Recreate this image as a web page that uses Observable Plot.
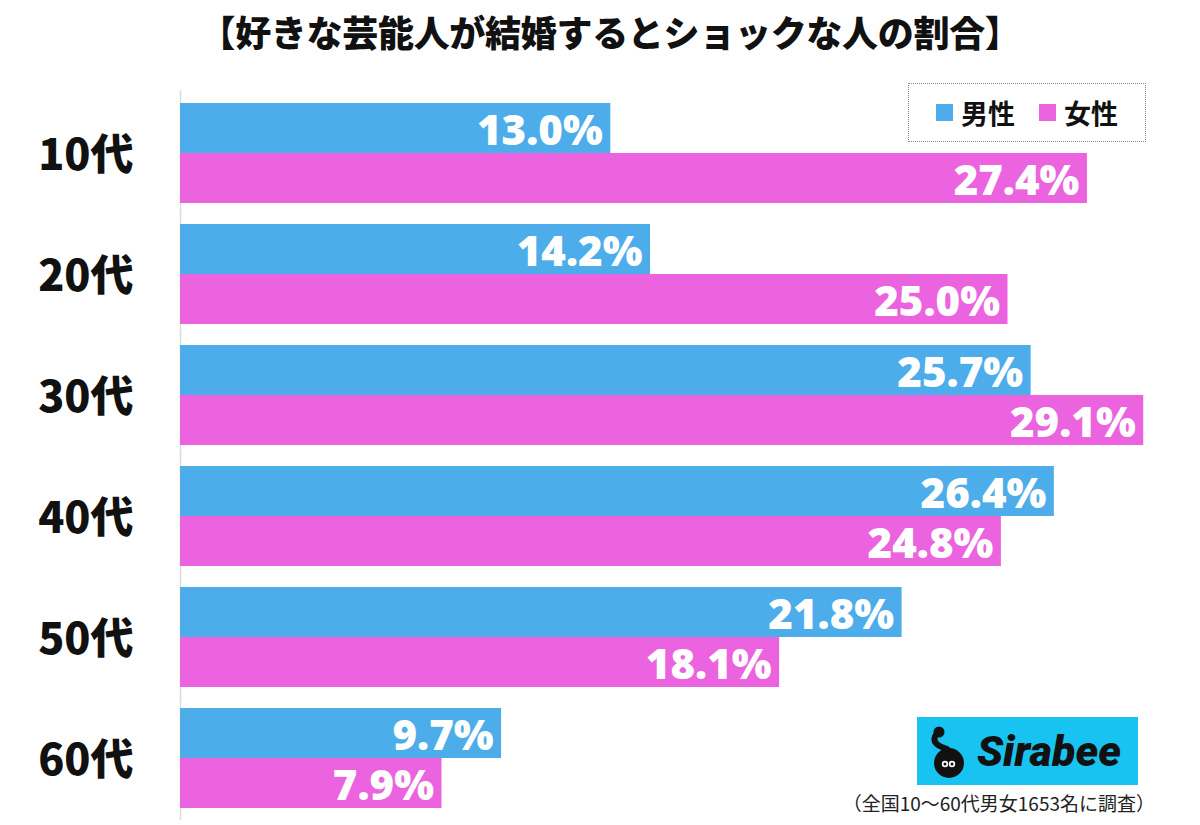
<!DOCTYPE html>
<html><head><meta charset="utf-8">
<script src="https://cdn.jsdelivr.net/npm/d3@7"></script>
<script src="https://cdn.jsdelivr.net/npm/@observablehq/plot@0.6"></script>
<style>
body{margin:0;background:#fff;}
#wrap{position:relative;width:1200px;height:825px;overflow:hidden;font-family:"Noto Sans CJK JP",sans-serif;background:#fff;}
#title{position:absolute;top:0;left:0;width:1200px;height:62px;line-height:62px;text-align:center;padding-left:20px;box-sizing:border-box;font-size:36px;font-weight:900;color:#111;letter-spacing:-0.3px;}
#chart{position:absolute;top:90px;left:0;}
#legend{position:absolute;left:908px;top:83px;width:238px;height:59px;box-sizing:border-box;border:1.5px dotted #888;display:flex;align-items:center;justify-content:center;gap:0;font-size:27px;font-weight:700;color:#111;}
#legend .sw{display:inline-block;width:17px;height:17px;margin-right:8px;}
#legend .item{display:flex;align-items:center;margin:0 12px;}
#logo{position:absolute;left:917px;top:717px;width:221px;height:68px;background:#19C3F1;}
#logo span{position:absolute;left:60px;top:4px;font-family:Roboto,sans-serif;font-size:43px;font-weight:900;font-style:italic;color:#111;line-height:60px;}
#caption{position:absolute;right:45px;top:789px;font-size:19px;color:#222;}
</style></head>
<body>
<div id="wrap">
  <div id="title"></div>
  <div id="chart"></div>
  <div id="legend"></div>
  <div id="logo">
    <svg width="50" height="68" style="position:absolute;left:8px;top:0">
      <circle cx="24" cy="46" r="15" fill="#111"/>
      <path d="M12 16 C 4 26, 16 30, 22 32" stroke="#111" stroke-width="6" fill="none" stroke-linecap="round"/>
      <circle cx="14" cy="15" r="5.5" fill="#111"/>
      <circle cx="20" cy="47" r="3.2" fill="#fff"/><circle cx="27" cy="47" r="3.2" fill="#fff"/>
      <circle cx="20" cy="47" r="1.5" fill="#111"/><circle cx="27" cy="47" r="1.5" fill="#111"/>
    </svg>
    <span>Sirabee</span>
  </div>
  <div id="caption"></div>
</div>
<script>
const title = "【好きな芸能人が結婚するとショックな人の割合】";
const ages = ["10代","20代","30代","40代","50代","60代"];
const sexes = ["男性","女性"];
const male = [13.0,14.2,25.7,26.4,21.8,9.7];
const female = [27.4,25.0,29.1,24.8,18.1,7.9];
const colors = ["#4DADEA","#EB63DE"];
const caption = "（全国10〜60代男女1653名に調査）";

const data = ages.flatMap((a,i)=>[{age:a,sex:sexes[0],v:male[i]},{age:a,sex:sexes[1],v:female[i]}]);

document.getElementById("title").textContent = title;
document.getElementById("caption").textContent = caption;
const lg = document.getElementById("legend");
sexes.forEach((s,i)=>{
  const it = document.createElement("div"); it.className="item";
  const sw = document.createElement("span"); sw.className="sw"; sw.style.background=colors[i];
  it.appendChild(sw); it.appendChild(document.createTextNode(s)); lg.appendChild(it);
});

const chart = Plot.plot({
  width: 1200,
  height: 735,
  marginTop: 10,
  marginBottom: 14,
  marginLeft: 180,
  marginRight: 27,
  style: {fontFamily: "'Noto Sans CJK JP', sans-serif", fontSize: "40px", background: "transparent", overflow: "visible"},
  x: {domain: [0, 30], axis: null},
  y: {domain: sexes, padding: 0, axis: null},
  fy: {domain: ages, paddingInner: 0.163, paddingOuter: 0, label: null},
  color: {domain: sexes, range: colors},
  marks: [
    Plot.ruleX([0], {stroke: "#ddd", strokeWidth: 1.5, insetTop: -12, insetBottom: -12}),
    Plot.barX(data, {x: "v", y: "sex", fy: "age", fill: "sex"}),
    Plot.text(data, {x: "v", y: "sex", fy: "age", text: d => d.v.toFixed(1) + "%", textAnchor: "end", dx: -8, dy: 3, fill: "white", fontSize: 42, fontWeight: 800, fontFamily: "'Open Sans', sans-serif"}),
    Plot.axisFy({anchor: "left", tickSize: 0, tickPadding: 47, fontSize: 43, fontWeight: 900, label: null, fill: "#111", dy: 3})
  ]
});
document.getElementById("chart").appendChild(chart);
</script>
</body></html>
